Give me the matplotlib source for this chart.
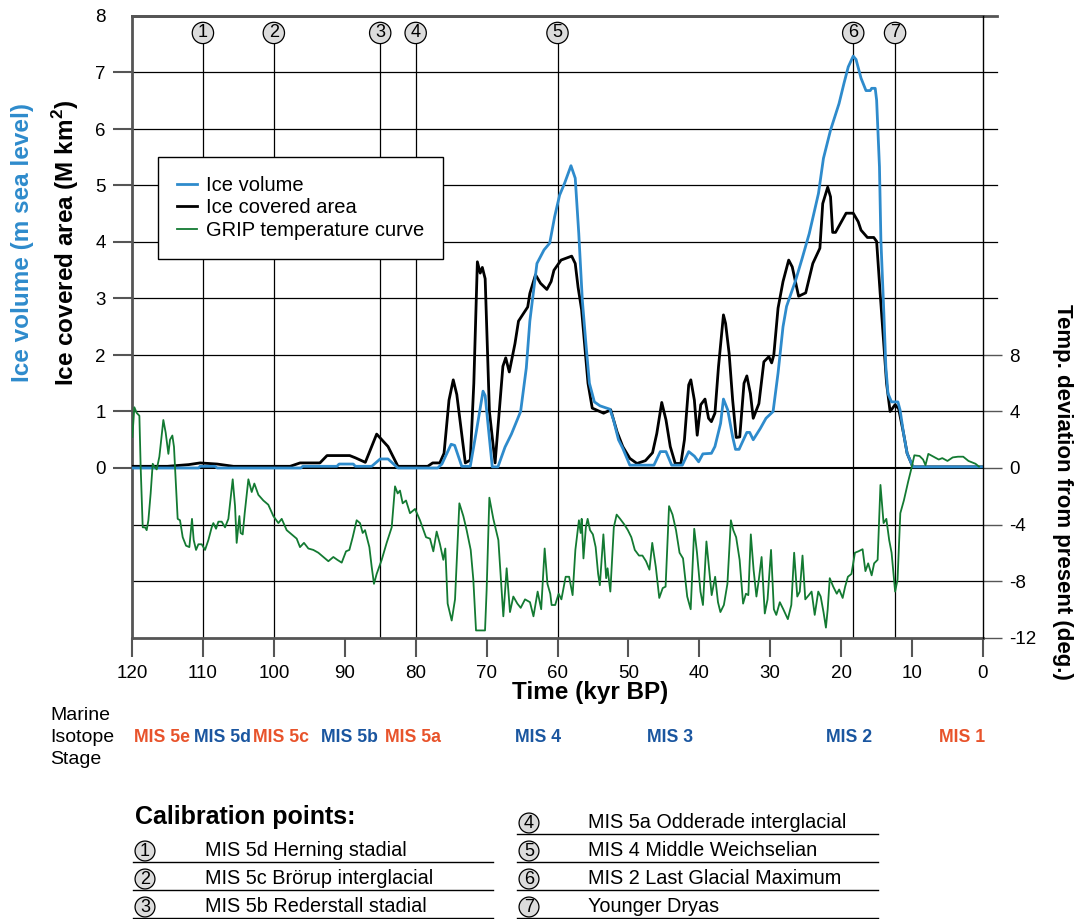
import numpy as np
import matplotlib.pyplot as plt
from matplotlib.transforms import blended_transform_factory
from matplotlib.lines import Line2D

plt.rcParams['font.family'] = ['Liberation Sans', 'DejaVu Sans']
plt.rcParams['axes.unicode_minus'] = False
plt.rcParams['mathtext.fontset'] = 'custom'
plt.rcParams['mathtext.rm'] = 'Liberation Sans'
plt.rcParams['mathtext.bf'] = 'Liberation Sans:bold'

# ice covered area (M km2), black curve
area_age = [120, 115, 112, 110.4, 108, 105.7, 97.7, 96.3, 93.5, 92.5, 89.3, 88.5, 87.1, 85.5,
            83.9, 82.5, 78.3, 77.6, 76.6, 76.0, 75.3, 74.7, 74.2, 73.0, 72.3, 71.8, 71.3, 70.9,
            70.6, 70.2, 69.6, 68.8, 67.7, 67.3, 66.8, 66.0, 65.5, 64.2, 63.9, 63.1, 62.4, 61.5,
            60.9, 60.5, 59.5, 58.0, 57.5, 57.1, 56.6, 55.7, 55.1, 53.5, 52.5, 51.6, 50.8, 49.8,
            48.8, 47.6, 46.6, 46.0, 45.3, 44.7, 44.1, 43.4, 42.6, 42.1, 41.5, 41.2, 40.7, 40.3,
            39.8, 39.2, 38.7, 38.3, 37.8, 37.3, 36.6, 36.3, 35.8, 35.3, 34.8, 34.3, 33.7, 33.3,
            32.8, 32.4, 31.6, 30.9, 30.2, 29.8, 29.5, 28.9, 28.2, 27.4, 26.9, 26.0, 25.0, 24.0,
            23.0, 22.6, 21.9, 21.5, 21.2, 20.8, 19.3, 18.3, 17.6, 17.2, 16.3, 15.4, 15.0, 14.5,
            14.0, 13.6, 13.1, 12.4, 11.9, 11.2, 10.7, 9.9, 0]
area_val = [0.03, 0.03, 0.06, 0.09, 0.07, 0.03, 0.03, 0.09, 0.09, 0.22, 0.22, 0.18, 0.10, 0.60,
            0.38, 0.03, 0.03, 0.09, 0.09, 0.26, 1.2, 1.56, 1.3, 0.09, 0.14, 1.5, 3.65, 3.45,
            3.55, 3.35, 1.0, 0.09, 1.8, 1.95, 1.7, 2.2, 2.6, 2.85, 3.09, 3.42, 3.27, 3.16,
            3.30, 3.50, 3.68, 3.75, 3.62, 3.2, 2.8, 1.50, 1.06, 0.97, 1.03, 0.64, 0.38, 0.17,
            0.08, 0.13, 0.27, 0.61, 1.16, 0.85, 0.38, 0.08, 0.08, 0.50, 1.47, 1.56, 1.20, 0.58,
            1.12, 1.22, 0.88, 0.82, 0.97, 1.79, 2.71, 2.56, 2.03, 1.20, 0.54, 0.55, 1.50, 1.63,
            1.32, 0.88, 1.14, 1.88, 1.97, 1.86, 2.0, 2.83, 3.30, 3.68, 3.56, 3.04, 3.10, 3.62,
            3.89, 4.68, 4.97, 4.80, 4.17, 4.17, 4.51, 4.51, 4.36, 4.21, 4.08, 4.08, 4.01, 3.09,
            2.21, 1.50, 1.00, 1.12, 1.05, 0.61, 0.26, 0.02, 0.02]

# ice volume (m sea level), blue curve
vol_age = [120, 110.6, 110.4, 108.3, 108.0, 96.2, 95.9, 91.1, 90.8, 88.8, 88.5, 86.2, 85.0, 83.9,
           82.5, 76.9, 76.3, 75.0, 74.5, 73.5, 72.3, 71.4, 70.5, 70.2, 69.2, 68.4, 67.4, 66.5,
           65.2, 64.4, 63.9, 62.9, 61.9, 61.1, 60.4, 59.7, 59.0, 58.1, 57.5, 57.0, 56.5, 56.0,
           55.5, 54.8, 54.0, 52.6, 52.1, 51.4, 50.8, 49.8, 46.4, 45.5, 44.7, 43.9, 42.4, 41.5,
           40.7, 40.1, 39.5, 38.3, 37.8, 37.0, 36.6, 36.0, 35.3, 34.9, 34.4, 33.3, 32.9, 32.4,
           31.4, 30.6, 29.6, 28.9, 28.2, 27.7, 26.4, 25.5, 24.5, 23.2, 22.5, 21.5, 20.3, 19.6,
           19.0, 18.3, 17.9, 17.2, 16.5, 15.9, 15.7, 15.2, 15.0, 14.6, 14.4, 14.0, 13.7, 13.4,
           12.9, 12.0, 11.7, 11.2, 10.7, 9.9, 0]
vol_val = [0, 0, 0.03, 0.03, 0, 0, 0.03, 0.03, 0.07, 0.07, 0.03, 0.03, 0.16, 0.16,
           0, 0, 0.07, 0.42, 0.40, 0.03, 0.03, 0.68, 1.36, 1.28, 0.02, 0.02, 0.37, 0.60,
           1.0, 1.77, 2.6, 3.62, 3.86, 3.98, 4.45, 4.83, 5.04, 5.35, 5.13, 4.15, 2.97, 2.21,
           1.50, 1.17, 1.10, 1.04, 0.85, 0.50, 0.35, 0.05, 0.05, 0.29, 0.29, 0.05, 0.05, 0.29,
           0.21, 0.11, 0.25, 0.26, 0.38, 0.79, 1.22, 1.03, 0.55, 0.33, 0.33, 0.63, 0.63, 0.50,
           0.70, 0.88, 1.0, 1.68, 2.50, 2.86, 3.33, 3.71, 4.15, 4.86, 5.48, 5.98, 6.45, 6.81,
           7.10, 7.29, 7.23, 6.90, 6.68, 6.68, 6.72, 6.72, 6.51, 5.33, 4.04, 2.80, 1.79, 1.32,
           1.17, 1.17, 1.03, 0.61, 0.26, 0.02, 0.02]

# GRIP temperature deviation (deg), green curve
grip_age = [119.95, 119.67, 119.34, 118.96, 118.78, 118.49, 118.16, 117.93, 117.69, 117.37,
            117.08, 116.85, 116.52, 116.14, 115.58, 115.25, 114.87, 114.64, 114.31, 114.08,
            113.79, 113.56, 113.23, 112.85, 112.38, 111.91, 111.54, 111.30, 110.97, 110.64,
            110.17, 109.70, 109.23, 108.76, 108.53, 108.15, 107.82, 107.35, 106.88, 106.41,
            105.80, 105.47, 105.24, 104.86, 104.68, 104.39, 104.11, 103.59, 103.12, 102.75,
            102.18, 101.48, 100.78, 100.07, 99.36, 98.89, 98.19, 97.48, 96.78, 96.31,
            95.75, 95.13, 94.43, 93.72, 93.02, 92.31, 91.61, 91.05, 90.43, 89.82,
            89.35, 88.88, 88.32, 87.85, 87.47, 87.14, 86.53, 86.20, 85.88, 85.50,
            84.79, 84.09, 83.38, 82.91, 82.54, 82.21, 81.83, 81.36, 80.80, 80.09,
            79.39, 78.54, 77.98, 77.51, 77.04, 76.57, 76.10, 75.82, 75.49, 74.92,
            74.45, 73.84, 73.28, 72.81, 72.24, 71.87, 71.49, 70.93, 70.22, 69.99,
            69.61, 69.05, 68.34, 67.64, 67.17, 66.70, 66.23, 65.66, 65.19, 64.58,
            63.88, 63.39, 62.80, 62.30, 61.81, 61.42, 61.02, 60.83, 60.33, 59.84,
            59.45, 58.85, 58.36, 57.87, 57.48, 56.98, 56.74, 56.59, 56.34, 56.00,
            55.75, 55.41, 55.01, 54.62, 54.27, 54.03, 53.53, 53.14, 52.94, 52.55,
            52.06, 51.66, 51.17, 50.58, 50.08, 49.59, 49.10, 48.51, 48.02, 47.52,
            47.03, 46.64, 46.14, 45.65, 45.16, 44.76, 44.27, 43.78, 43.29, 42.79,
            42.30, 41.71, 41.22, 40.72, 40.33, 39.84, 39.49, 39.00, 38.65, 38.26,
            37.77, 37.37, 37.03, 36.54, 36.04, 35.55, 35.21, 34.81, 34.32, 33.83,
            33.43, 33.09, 32.74, 32.35, 31.95, 31.61, 31.22, 30.77, 30.38, 29.89,
            29.49, 29.15, 28.65, 28.16, 27.52, 27.03, 26.63, 26.19, 25.84, 25.45,
            25.06, 24.56, 24.17, 23.73, 23.23, 22.89, 22.49, 22.15, 21.90, 21.61,
            21.12, 20.62, 20.28, 19.79, 19.44, 19.05, 18.55, 18.06, 17.57, 16.98,
            16.58, 16.19, 15.70, 15.35, 14.86, 14.46, 14.02, 13.63, 13.23, 12.89,
            12.39, 12.05, 11.66, 11.16, 10.57, 10.08, 9.68, 8.95, 8.45, 8.11,
            7.71, 6.97, 6.24, 5.74, 5.01, 4.27, 3.53, 2.79, 2.05, 1.56,
            1.06, 0.57]
grip_temp = [2.2, 4.3, 3.9, 3.7, 0.1, -4.2, -4.2, -4.4, -3.7, -1.8,
             0.3, 0.1, -0.1, 0.8, 3.4, 2.5, 1.0, 2.0, 2.3, 1.5,
             -1.3, -3.6, -3.7, -4.9, -5.5, -5.6, -3.6, -5.1, -5.8, -5.4,
             -5.4, -5.8, -5.1, -4.2, -3.9, -4.3, -3.8, -3.8, -4.2, -3.6,
             -0.8, -2.7, -5.3, -3.4, -4.6, -4.7, -3.2, -0.8, -1.7, -1.1,
             -1.9, -2.3, -2.6, -3.4, -3.9, -3.6, -4.4, -4.7, -5.0, -5.6,
             -5.3, -5.7, -5.8, -6.0, -6.3, -6.6, -6.3, -6.5, -6.7, -5.9,
             -5.8, -4.9, -3.7, -3.9, -4.6, -4.4, -5.6, -7.0, -8.2, -7.5,
             -6.5, -5.3, -4.2, -1.3, -1.8, -1.6, -2.5, -2.3, -3.2, -2.9,
             -3.7, -4.9, -5.0, -5.9, -4.5, -5.4, -6.5, -5.7, -9.6, -10.8,
             -9.3, -2.5, -3.4, -4.4, -5.8, -7.9, -11.5, -11.5, -11.5, -8.6,
             -2.1, -3.6, -5.1, -10.5, -7.1, -10.2, -9.1, -9.6, -9.9, -9.3,
             -9.5, -10.5, -8.75, -10.0, -5.7, -8.2, -8.9, -9.7, -9.7, -8.9,
             -9.3, -7.7, -7.7, -9.0, -5.8, -3.7, -4.6, -3.6, -6.4, -4.2,
             -3.6, -4.4, -4.7, -5.6, -7.5, -8.3, -4.7, -7.8, -7.1, -8.75,
             -4.2, -3.3, -3.6, -4.0, -4.4, -4.9, -5.8, -6.2, -6.2, -6.6,
             -7.2, -5.3, -7.0, -9.2, -8.5, -8.4, -2.7, -3.3, -4.4, -6.0,
             -6.4, -9.1, -10.0, -4.3, -6.0, -8.75, -9.7, -5.2, -7.0, -9.0,
             -7.7, -9.5, -10.2, -9.7, -8.2, -3.7, -4.4, -4.9, -6.5, -9.6,
             -8.9, -9.0, -4.7, -7.2, -9.1, -7.9, -6.3, -10.3, -9.3, -5.8,
             -10.0, -10.4, -9.5, -10.0, -10.7, -9.7, -6.0, -9.1, -8.75, -6.2,
             -9.3, -9.0, -8.75, -10.4, -8.75, -9.1, -10.2, -11.3, -10.0, -7.8,
             -8.4, -8.9, -8.6, -9.2, -8.4, -7.7, -7.5, -6.0, -5.9, -5.75,
             -7.3, -6.75, -7.6, -6.75, -6.5, -1.2, -3.9, -3.6, -5.1, -6.0,
             -8.75, -7.9, -3.2, -2.3, -1.0, 0.0, 0.9, 0.85, 0.6, 0.2,
             1.0, 0.8, 0.6, 0.7, 0.5, 0.75, 0.8, 0.8, 0.5, 0.4,
             0.3, 0.1]

calib_age = [110, 100, 85, 80, 60, 18.3, 12.4]
calib_names = ['MIS 5d Herning stadial', 'MIS 5c Brörup interglacial',
               'MIS 5b Rederstall stadial', 'MIS 5a Odderade interglacial',
               'MIS 4 Middle Weichselian', 'MIS 2 Last Glacial Maximum', 'Younger Dryas']

mis_names = ['MIS 5e', 'MIS 5d', 'MIS 5c', 'MIS 5b', 'MIS 5a', 'MIS 4', 'MIS 3', 'MIS 2', 'MIS 1']
mis_age = [115.8, 107.3, 99.0, 89.3, 80.4, 62.7, 44.1, 18.9, 2.9]
mis_warm = [True, False, True, False, True, False, False, False, True]

BLUE = '#2e8bcc'
GREEN = '#137a32'
WARM = '#e8532b'
COLD = '#1a56a0'
GRAY = '#555555'

W, H = 1075, 919
fig = plt.figure(figsize=(W / 100, H / 100), dpi=100)


def fx(x):
    return x / W


def fy(y):
    return 1 - y / H


ax = fig.add_axes([fx(132), fy(637.5), fx(983) - fx(132), fy(16) - fy(637.5)])
ax.set_xlim(120, 0)
ax.set_ylim(-3, 8)
ax2 = ax.twinx()
ax2.set_ylim(-12, 32)

# horizontal grid
for v in range(-2, 8):
    if v == 0:
        continue
    ax.axhline(v, color='k', lw=0.9, xmax=1.016 if v >= 3 else 1.0, clip_on=False, zorder=1)
ax.axhline(8, color=GRAY, lw=2, xmax=1.016, clip_on=False, zorder=1)
ax.axhline(0, color='k', lw=1.5, zorder=1)

# calibration lines and markers
ax.vlines(calib_age, -3, 7.52, color='k', lw=0.9, zorder=1)
for i, a in enumerate(calib_age):
    ax.text(a, 7.7, str(i + 1), ha='center', va='center', fontsize=13,
            bbox=dict(boxstyle='circle,pad=0.12', fc='#dcdcdc', ec='k', lw=0.9))

l_area, = ax.plot(area_age, area_val, color='k', lw=2.0, zorder=3, label='Ice covered area')
l_vol, = ax.plot(vol_age, vol_val, color=BLUE, lw=2.0, zorder=4, label='Ice volume')
l_grip, = ax2.plot(grip_age, grip_temp, color=GREEN, lw=1.3, label='GRIP temperature curve')

for s in ['left', 'top', 'bottom']:
    ax.spines[s].set_color(GRAY)
    ax.spines[s].set_linewidth(2)
    ax2.spines[s].set_visible(False)
ax.spines['right'].set_visible(False)
ax2.spines['right'].set_color('k')
ax2.spines['right'].set_linewidth(1)

ax.set_xticks(np.arange(120, -1, -10))
ax.set_yticks(np.arange(0, 9, 1))
ax2.set_yticks(np.arange(-12, 9, 4))
ax.tick_params(axis='x', direction='out', length=14, width=1.5, color=GRAY, labelsize=13.5, pad=6)
ax.tick_params(axis='y', direction='out', length=14, width=1.5, color=GRAY, labelsize=13.5, pad=5)
ax2.tick_params(axis='y', direction='out', length=14, width=1, color=GRAY, labelsize=13.5, pad=5)
ax.yaxis.get_major_ticks()[-1].tick1line.set_visible(False)

leg = ax2.legend([l_vol, l_area, l_grip],
                 ['Ice volume', 'Ice covered area', 'GRIP temperature curve'],
                 loc='upper left', bbox_to_anchor=(0.03, 0.773), borderaxespad=0,
                 fancybox=False, edgecolor='k', framealpha=1, fontsize=14.5,
                 handlelength=1.0, handletextpad=0.45, labelspacing=0.16, borderpad=0.95)
leg.get_frame().set_linewidth(1)

# axis labels
fig.text(fx(590), fy(692), 'Time (kyr BP)', ha='center', va='center', fontsize=17.5, fontweight='bold')
fig.text(fx(23), fy(243), 'Ice volume (m sea level)', ha='center', va='center', rotation=90,
         fontsize=17.5, fontweight='bold', color=BLUE)
fig.text(fx(66), fy(243), r'Ice covered area (M km$^{\mathbf{2}}$)', ha='center', va='center',
         rotation=90, fontsize=17.5, fontweight='bold')
fig.text(fx(1062), fy(492), 'Temp. deviation from present (deg.)', ha='center', va='center',
         rotation=270, fontsize=16, fontweight='bold')

# marine isotope stages
for y, t in zip([716, 738, 760], ['Marine', 'Isotope', 'Stage']):
    fig.text(fx(50), fy(y), t, ha='left', va='center', fontsize=14)
trans = blended_transform_factory(ax.transData, fig.transFigure)
for name, a, warm in zip(mis_names, mis_age, mis_warm):
    fig.text(a, fy(737), name, transform=trans, ha='center', va='center', fontsize=12.7,
             fontweight='bold', color=WARM if warm else COLD)

# calibration points table
fig.text(fx(135), fy(817), 'Calibration points:', ha='left', va='center', fontsize=18, fontweight='bold')
rows_left = [851, 879, 907]
rows_right = [823, 851, 879, 907]
cells = [(145, 205, 133, 493, y) for y in rows_left] + [(529, 588, 517, 878, y) for y in rows_right]
for i, (cx, tx, x0, x1, y) in enumerate(cells):
    fig.text(fx(cx), fy(y), str(i + 1), ha='center', va='center', fontsize=13,
             bbox=dict(boxstyle='circle,pad=0.08', fc='#dcdcdc', ec='k', lw=0.9))
    fig.text(fx(tx), fy(y), calib_names[i], ha='left', va='center', fontsize=14.3)
    fig.add_artist(Line2D([fx(x0), fx(x1)], [fy(y + 11)] * 2, transform=fig.transFigure,
                          color='k', lw=1))

fig.savefig('out.png', dpi=100)
